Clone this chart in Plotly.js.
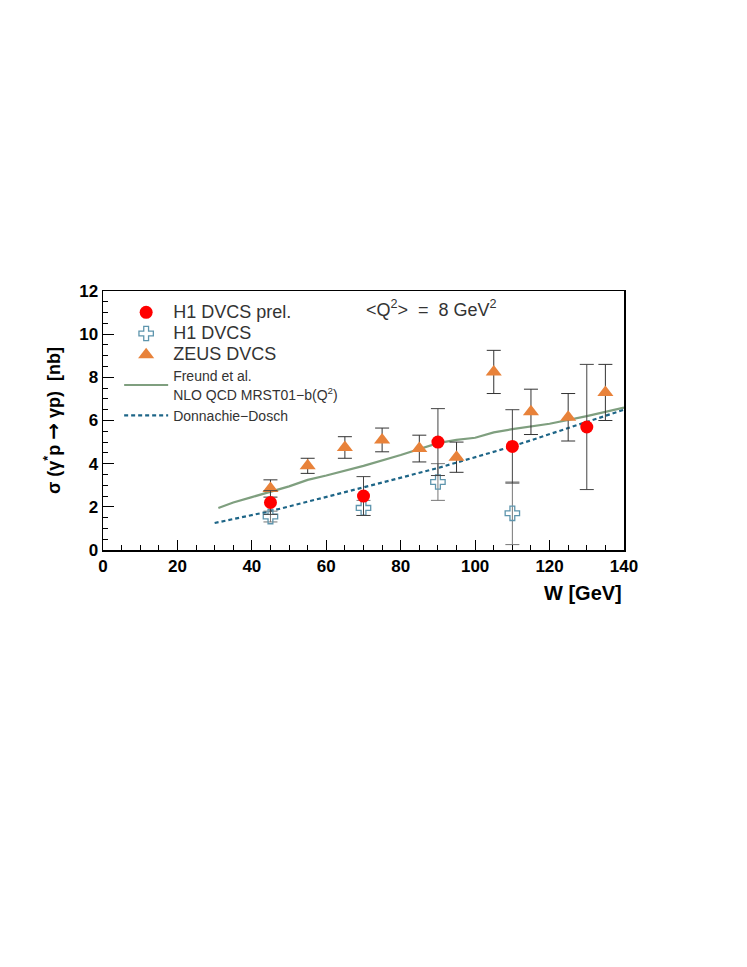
<!DOCTYPE html>
<html>
<head>
<meta charset="utf-8">
<script src="https://cdn.plot.ly/plotly-3.0.1.min.js"></script>
<style>
  html, body { margin: 0; padding: 0; background: #fff; }
  #chart { width: 747px; height: 967px; }
</style>
</head>
<body>
<div id="chart"></div>
<script>
// H1 DVCS prel. (red dots)
var h1PrelW = [45, 70, 90, 110, 130];
var h1PrelSig = [2.2, 2.5, 5.0, 4.8, 5.7];
var h1PrelErr = [0.55, 0.9, 1.55, 1.7, 2.9];

// H1 DVCS (open crosses)
var h1W = [45, 70, 90, 110];
var h1Sig = [1.55, 1.95, 3.15, 1.7];
var h1Err = [0.25, 0.35, 0.85, 1.45];

// ZEUS DVCS (triangles)
var zeusW = [45, 55, 65, 75, 85, 95, 105, 115, 125, 135];
var zeusSig = [2.85, 3.9, 4.75, 5.1, 4.7, 4.3, 8.25, 6.4, 6.15, 7.3];
var zeusErr = [0.4, 0.35, 0.5, 0.55, 0.62, 0.7, 1.0, 1.05, 1.1, 1.3];

// Freund et al. NLO QCD curve
var freundW = [31, 35, 40, 45, 50, 55, 60, 70, 80, 90, 95, 100, 105, 110, 120, 130, 140];
var freundSig = [1.95, 2.2, 2.45, 2.7, 2.95, 3.25, 3.45, 3.9, 4.4, 4.95, 5.1, 5.2, 5.45, 5.6, 5.85, 6.2, 6.6];

// Donnachie-Dosch curve
var ddW = [30, 45, 70, 90, 110, 130, 140];
var ddSig = [1.25, 1.8, 2.9, 3.8, 4.8, 5.95, 6.5];

var txtFont = 'Liberation Sans, Arial, sans-serif';
var big = function (s) { return '<span style="font-size:18px">' + s + '</span>'; };

var traces = [
  {
    x: freundW, y: freundSig, type: 'scatter', mode: 'lines',
    name: 'Freund et al.<br>NLO QCD MRST01\u2212b(Q<sup>2</sup>)',
    line: {color: '#7f9f7f', width: 2.2},
    legendrank: 4
  },
  {
    x: ddW, y: ddSig, type: 'scatter', mode: 'lines',
    name: 'Donnachie\u2212Dosch',
    line: {color: '#1d6587', width: 2.2, dash: '4px,3px'},
    legendrank: 5
  },
  {
    x: h1W, y: h1Sig, type: 'scatter', mode: 'markers',
    name: big('H1 DVCS'),
    marker: {symbol: 'cross-open', size: 12, color: '#5e95ad', line: {width: 1.3, color: '#5e95ad'}},
    error_y: {type: 'data', array: h1Err, color: '#777', thickness: 1, width: 7},
    legendrank: 2
  },
  {
    x: zeusW, y: zeusSig, type: 'scatter', mode: 'markers',
    name: big('ZEUS DVCS'),
    marker: {symbol: 'triangle-up', size: 14, color: '#e8823a'},
    error_y: {type: 'data', array: zeusErr, color: '#333', thickness: 1, width: 7},
    legendrank: 3
  },
  {
    x: h1PrelW, y: h1PrelSig, type: 'scatter', mode: 'markers',
    name: big('H1 DVCS prel.'),
    marker: {symbol: 'circle', size: 13, color: '#ff0000'},
    error_y: {type: 'data', array: h1PrelErr, color: '#444', thickness: 1, width: 7},
    legendrank: 1
  }
];

var layout = {
  width: 747, height: 967,
  margin: {l: 103, r: 123, t: 291, b: 417},
  paper_bgcolor: '#fff', plot_bgcolor: '#fff',
  font: {family: txtFont, color: '#000'},
  showlegend: true,
  legend: {
    x: 0.031, y: 0.978, xanchor: 'left', yanchor: 'top',
    bgcolor: 'rgba(0,0,0,0)',
    font: {family: txtFont, size: 14, color: '#333'},
    tracegroupgap: 0, itemwidth: 44
  },
  xaxis: {
    range: [0, 140], dtick: 20, ticks: 'inside', ticklen: 10, tickcolor: '#000',
    minor: {dtick: 5, ticks: 'inside', ticklen: 5, tickcolor: '#000'},
    showgrid: false, zeroline: false,
    showline: true, mirror: true, linecolor: '#000', linewidth: 1.5,
    tickfont: {family: txtFont, size: 17, weight: 'bold'}
  },
  yaxis: {
    range: [0, 12], dtick: 2, ticks: 'inside', ticklen: 11, tickcolor: '#000',
    minor: {dtick: 0.5, ticks: 'inside', ticklen: 5, tickcolor: '#000'},
    showgrid: false, zeroline: false,
    showline: true, mirror: true, linecolor: '#000', linewidth: 1.5,
    tickfont: {family: txtFont, size: 17, weight: 'bold'},
    title: {
      text: '\u03c3 (\u03b3<sup>*</sup>p <span style="font-family:DejaVu Sans;font-size:20px">\u2192</span> \u03b3p)  [nb]',
      font: {family: txtFont, size: 18, weight: 'bold'},
      standoff: 14
    }
  },
  annotations: [
    {
      xref: 'paper', yref: 'paper', x: 1, y: 0, xanchor: 'right', yanchor: 'top',
      yshift: -30, showarrow: false,
      text: 'W [GeV]', font: {family: txtFont, size: 20, weight: 'bold'}
    },
    {
      xref: 'paper', yref: 'paper', x: 0.5, y: 0.985, xanchor: 'left', yanchor: 'top',
      showarrow: false,
      text: '&lt;Q<sup>2</sup>&gt;  =  8 GeV<sup>2</sup>',
      font: {family: txtFont, size: 18, color: '#333'}
    }
  ]
};

Plotly.newPlot('chart', traces, layout, {displayModeBar: false, staticPlot: true});
</script>
</body>
</html>
